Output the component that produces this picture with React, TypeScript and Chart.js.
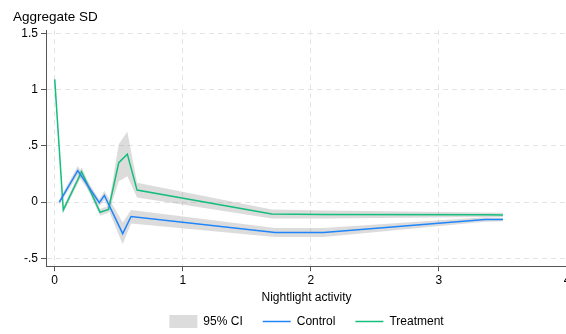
import React, { useEffect, useRef } from "react";
import { Chart, registerables } from "chart.js";
Chart.register(...registerables);

// ---- data ----
const treatmentX = [0.0, 0.067, 0.21, 0.354, 0.42, 0.5, 0.567, 0.643, 1.695, 2.1, 3.36, 3.5];
const treatmentY = [1.09, -0.07, 0.27, -0.09, -0.065, 0.35, 0.426, 0.107, -0.105, -0.11, -0.113, -0.115];
const treatmentLo = [1.08, -0.095, 0.23, -0.12, -0.095, 0.185, 0.23, 0.042, -0.145, -0.145, -0.133, -0.135];
const treatmentHi = [1.1, -0.045, 0.31, -0.06, -0.035, 0.515, 0.625, 0.172, -0.065, -0.075, -0.093, -0.095];

const controlX = [0.036, 0.18, 0.348, 0.388, 0.531, 0.596, 1.72, 2.1, 3.36, 3.5];
const controlY = [0.0, 0.28, -0.005, 0.06, -0.28, -0.128, -0.27, -0.27, -0.155, -0.155];
const controlLo = [-0.025, 0.24, -0.035, 0.02, -0.375, -0.19, -0.31, -0.31, -0.175, -0.17];
const controlHi = [0.025, 0.32, 0.025, 0.1, -0.18, -0.07, -0.23, -0.23, -0.135, -0.14];

const yTickValues = [-0.5, 0, 0.5, 1, 1.5];
const yTickLabels = ["-.5", "0", ".5", "1", "1.5"];
const xTickValues = [0, 1, 2, 3, 4];
const xTickLabels = ["0", "1", "2", "3", "4"];

const seriesNames = ["Control", "Treatment"];
const ciName = "95% CI";
const xTitle = "Nightlight activity";
const yTitle = "Aggregate SD";

const BLUE = "rgb(30,133,250)";
const GREEN = "rgb(20,190,125)";
const BAND = "rgba(150,150,150,0.33)";
const BAND_SOLID = "#dcdcdc";
const FONT = "'Liberation Sans', Arial, Helvetica, sans-serif";

const pts = (xs: number[], ys: number[]) => xs.map((x, i) => ({ x, y: ys[i] }));

export default function App() {
  const ref = useRef<HTMLCanvasElement | null>(null);

  useEffect(() => {
    document.body.style.margin = "0";
    document.body.style.overflow = "hidden";
    const canvas = ref.current;
    if (!canvas) return;

    const legendItems = [
      { text: ciName, kind: "box", color: BAND_SOLID },
      { text: seriesNames[0], kind: "line", color: BLUE },
      { text: seriesNames[1], kind: "line", color: GREEN },
    ];

    const customLegend = {
      id: "customLegend",
      afterDraw(chart: any) {
        const ctx = chart.ctx as CanvasRenderingContext2D;
        const area = chart.chartArea;
        const markerW = 28;
        const gapText = 6;
        const gapItem = 20;
        ctx.save();
        ctx.font = `12px ${FONT}`;
        const widths = legendItems.map((it) => markerW + gapText + ctx.measureText(it.text).width);
        const total = widths.reduce((a, b) => a + b, 0) + gapItem * (legendItems.length - 1);
        let x = (area.left + area.right) / 2 - total / 2;
        const cy = chart.height - 12.5;
        ctx.textBaseline = "middle";
        ctx.textAlign = "left";
        legendItems.forEach((it, i) => {
          if (it.kind === "box") {
            ctx.fillStyle = it.color;
            ctx.fillRect(x, cy - 6.5, markerW, 13);
          } else {
            ctx.strokeStyle = it.color;
            ctx.lineWidth = 1.5;
            ctx.beginPath();
            ctx.moveTo(x, cy);
            ctx.lineTo(x + markerW, cy);
            ctx.stroke();
          }
          ctx.fillStyle = "#000";
          ctx.fillText(it.text, x + markerW + gapText, cy + 0.5);
          x += widths[i] + gapItem;
        });
        ctx.restore();
      },
    };

    const lineDs = (label: string, data: any[], color: string) => ({
      label,
      data,
      borderColor: color,
      backgroundColor: color,
      borderWidth: 1.5,
      pointRadius: 0,
      tension: 0,
      fill: false,
      order: 0,
    });
    const bandDs = (label: string, data: any[], fill: any) => ({
      label,
      data,
      borderWidth: 0,
      borderColor: "rgba(0,0,0,0)",
      backgroundColor: BAND,
      pointRadius: 0,
      tension: 0,
      fill,
      order: 5,
    });

    const gridOpts: any = {
      color: "#e4e4e4",
      tickColor: "#555",
      tickLength: 5,
      tickBorderDash: [],
      lineWidth: 1,
    };

    const chart = new Chart(canvas, {
      type: "line",
      data: {
        datasets: [
          lineDs(seriesNames[0], pts(controlX, controlY), BLUE),
          lineDs(seriesNames[1], pts(treatmentX, treatmentY), GREEN),
          bandDs("cHi", pts(controlX, controlHi), false),
          bandDs("cLo", pts(controlX, controlLo), "-1"),
          bandDs("tHi", pts(treatmentX, treatmentHi), false),
          bandDs("tLo", pts(treatmentX, treatmentLo), "-1"),
        ] as any,
      },
      options: {
        animation: false,
        responsive: false,
        devicePixelRatio: 1,
        layout: { padding: { left: 13, right: 33, top: 0, bottom: 29 } },
        plugins: {
          tooltip: { enabled: false },
          legend: { display: false },
          title: {
            display: true,
            text: yTitle,
            align: "start",
            color: "#000",
            font: { family: FONT, size: 13.5, weight: "normal" },
            padding: { top: 9, bottom: 5 },
          },
        },
        scales: {
          x: {
            type: "linear",
            min: -0.068,
            max: 4,
            afterBuildTicks: (s: any) => {
              s.ticks = xTickValues.map((v) => ({ value: v }));
            },
            ticks: {
              color: "#000",
              font: { family: FONT, size: 12 },
              padding: 2,
              maxRotation: 0,
              callback: (v: any) => {
                const i = xTickValues.indexOf(Number(v));
                return i >= 0 ? xTickLabels[i] : "";
              },
            },
            grid: gridOpts,
            border: { color: "#555", width: 1, dash: [5, 4] } as any,
            title: {
              display: true,
              text: xTitle,
              color: "#000",
              font: { family: FONT, size: 12 },
              padding: { top: 1, bottom: 0 },
            },
          },
          y: {
            type: "linear",
            min: -0.569,
            max: 1.527,
            afterBuildTicks: (s: any) => {
              s.ticks = yTickValues.map((v) => ({ value: v }));
            },
            afterFit: (s: any) => {
              s.width = 33;
            },
            ticks: {
              color: "#000",
              font: { family: FONT, size: 12 },
              padding: 3,
              callback: (v: any) => {
                const i = yTickValues.indexOf(Number(v));
                return i >= 0 ? yTickLabels[i] : "";
              },
            },
            grid: gridOpts,
            border: { color: "#555", width: 1, dash: [5, 4] } as any,
          },
        },
      },
      plugins: [customLegend],
    });

    return () => chart.destroy();
  }, []);

  return (
    <div style={{ width: 566, height: 334, overflow: "hidden", position: "relative" }}>
      <canvas ref={ref} width={600} height={334} style={{ display: "block", width: 600, height: 334 }} />
    </div>
  );
}
